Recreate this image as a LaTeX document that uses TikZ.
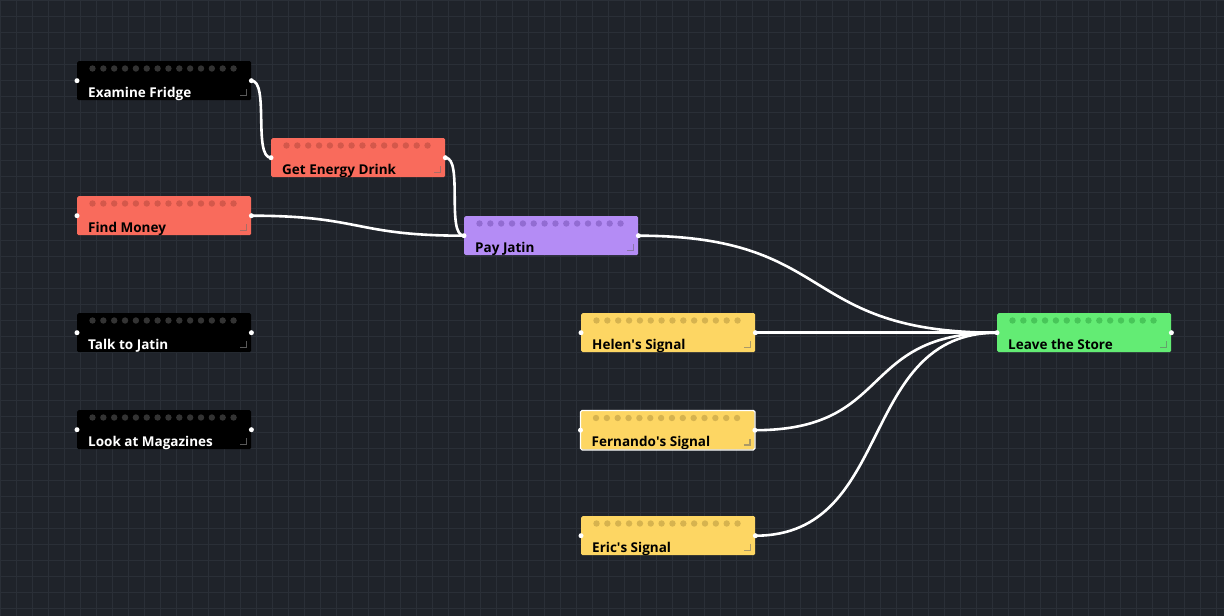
\documentclass[tikz,border=0pt]{standalone}
\usepackage{fontspec}
\setmainfont{Open Sans}
\usetikzlibrary{calc}
\definecolor{bg}{HTML}{1F232A}
\definecolor{gridc}{HTML}{2A2F37}
\definecolor{cblack}{HTML}{000000}\definecolor{dblack}{HTML}{333333}
\definecolor{cred}{HTML}{F96B5C}\definecolor{dred}{HTML}{D4584B}
\definecolor{cpur}{HTML}{B48CF5}\definecolor{dpur}{HTML}{926CD2}
\definecolor{cyel}{HTML}{FDD663}\definecolor{dyel}{HTML}{D6B34F}
\definecolor{cgrn}{HTML}{63EC74}\definecolor{dgrn}{HTML}{48C659}
\tikzset{
 box/.style={anchor=north west,minimum width=174pt,minimum height=39pt,inner sep=0pt,rounded corners=1.5pt,draw=none},
 lbl/.style={anchor=base west,inner sep=0pt,font=\bfseries\fontsize{13.5pt}{15pt}\selectfont},
 wire/.style={white,line width=2.6pt},
 port/.style={circle,fill=white,inner sep=0pt,minimum size=5pt},
}
\newcommand{\gnode}[7]{%
 \node[box,fill=#4] (#1) at (#2,#3) {};
 \foreach \i in {0,...,13} \fill[#5] ($(#1.north west)+(15.5+10.85*\i,7.5)$) circle (3.2pt);
 \node[lbl,text=#6] (#1-t) at ($(#1.south west)+(11,-3)$) {#7};
 \draw[#5!50!gray,line width=1.2pt] ($(#1.south east)+(-11,-5)$) -- ($(#1.south east)+(-5,-5)$) -- ($(#1.south east)+(-5,-11)$);
}
\begin{document}
\begin{tikzpicture}[x=1pt,y=-1pt]
\fill[bg] (0,0) rectangle (1224,616);
\useasboundingbox (0,0) rectangle (1224,616);
\foreach \g in {0,16,...,1224} \draw[gridc,line width=0.6pt] (\g,0) -- (\g,616);
\foreach \g in {0,16,...,616} \draw[gridc,line width=0.6pt] (0,\g) -- (1224,\g);
\gnode{ef}{77}{61}{cblack}{dblack}{white}{Examine Fridge}
\gnode{ge}{271}{138}{cred}{dred}{black}{Get Energy Drink}
\gnode{fm}{77}{196}{cred}{dred}{black}{Find Money}
\gnode{pj}{464}{216}{cpur}{dpur}{black}{Pay Jatin}
\gnode{tj}{77}{313}{cblack}{dblack}{white}{Talk to Jatin}
\gnode{lm}{77}{410}{cblack}{dblack}{white}{Look at Magazines}
\gnode{hs}{581}{313}{cyel}{dyel}{black}{Helen\textquotesingle s Signal}
\gnode{fs}{580.5}{410.5}{cyel}{dyel}{black}{Fernando\textquotesingle s Signal}
\draw[white,line width=1.2pt,rounded corners=1.5pt] (fs.north west) rectangle (fs.south east);
\gnode{es}{581}{516}{cyel}{dyel}{black}{Eric\textquotesingle s Signal}
\gnode{ls}{997}{313}{cgrn}{dgrn}{black}{Leave the Store}
\foreach \n in {ef,ge,fm,pj,tj,lm,hs,fs,es,ls} {
 \node[port] at (\n.west) {};
 \node[port] at (\n.east) {};
}
\draw[wire] (ef.east) .. controls +(18,0) and +(-18,0) .. (ge.west);
\draw[wire] (ge.east) .. controls +(18,0) and +(-18,0) .. (pj.west);
\draw[wire] (fm.east) .. controls +(110,0) and +(-110,0) .. (pj.west);
\draw[wire] (pj.east) .. controls +(200,0) and +(-200,0) .. (ls.west);
\draw[wire] (hs.east) -- (ls.west);
\draw[wire] (fs.east) .. controls +(140,0) and +(-140,0) .. (ls.west);
\draw[wire] (es.east) .. controls +(140,0) and +(-140,0) .. (ls.west);
\end{tikzpicture}
\end{document}
